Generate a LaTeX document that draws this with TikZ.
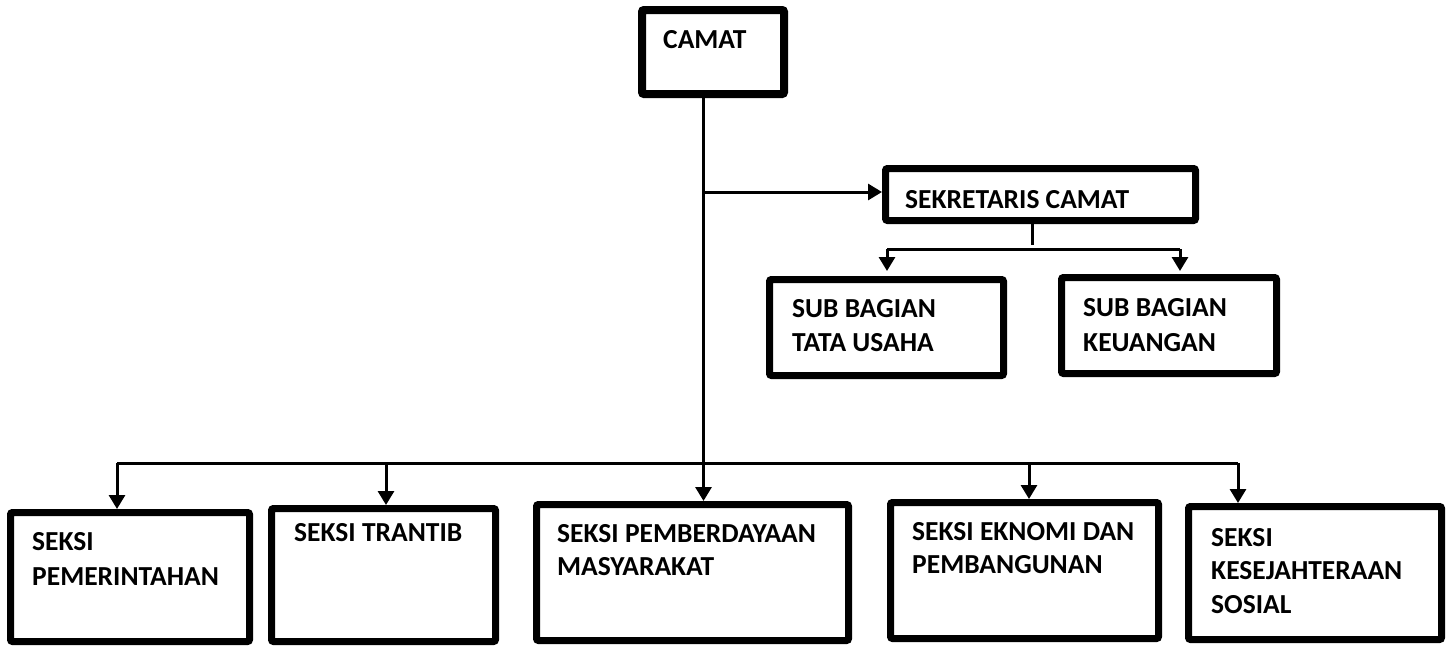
\documentclass[tikz,border=0pt]{standalone}
\usepackage{fontspec}
\setmainfont{Carlito}
\usetikzlibrary{arrows.meta}
\begin{document}
\begin{tikzpicture}[x=1pt,y=-1pt,
  box/.style={draw=black, line width=7pt, rounded corners=2pt, rectangle, inner sep=0pt, fill=white},
  conn/.style={draw=black, line width=3pt},
  arr/.style={conn, -{Triangle[length=14pt,width=16pt]}},
  lbl/.style={anchor=base west, inner sep=0pt, font=\fontsize{27.5}{33}\selectfont\bfseries}]
\useasboundingbox[fill=white] (0,0) rectangle (1451,646);

% boxes
\node[box, line width=8pt, minimum width=142pt, minimum height=84pt] (camat) at (713,52) {};
\node[box, minimum width=310pt, minimum height=52pt] (sek) at (1040.5,194.5) {};
\node[box, minimum width=234pt, minimum height=96pt] (tu) at (886.5,327.5) {};
\node[box, minimum width=215pt, minimum height=96pt] (keu) at (1169,325.5) {};
\node[box, minimum width=239pt, minimum height=129pt] (b1) at (130,577) {};
\node[box, minimum width=224pt, minimum height=133pt] (b2) at (383.5,575) {};
\node[box, minimum width=312pt, minimum height=136pt] (b3) at (692.5,572.5) {};
\node[box, minimum width=268pt, minimum height=136pt] (b4) at (1024.5,570.5) {};
\node[box, minimum width=253pt, minimum height=133pt] (b5) at (1315,573) {};

% labels
\node[lbl] (tcamat) at (663,48.5) {CAMAT};
\node[lbl] (tsek) at (905,208.5) {SEKRETARIS CAMAT};
\node[lbl] (ttu1) at (792,317.5) {SUB BAGIAN};
\node[lbl] (ttu2) at (792,351.5) {TATA USAHA};
\node[lbl] (tkeu1) at (1083,316.5) {SUB BAGIAN};
\node[lbl] (tkeu2) at (1083,351.5) {KEUANGAN};
\node[lbl] (tb1a) at (32,550.5) {SEKSI};
\node[lbl] (tb1b) at (32,585.5) {PEMERINTAHAN};
\node[lbl] (tb2a) at (294,541) {SEKSI TRANTIB};
\node[lbl] (tb3a) at (557,542.5) {SEKSI PEMBERDAYAAN};
\node[lbl] (tb3b) at (557,575.5) {MASYARAKAT};
\node[lbl] (tb4a) at (912,540.5) {SEKSI EKNOMI DAN};
\node[lbl] (tb4b) at (912,573.5) {PEMBANGUNAN};
\node[lbl] (tb5a) at (1211,546.5) {SEKSI};
\node[lbl] (tb5b) at (1211,579.5) {KESEJAHTERAAN};
\node[lbl] (tb5c) at (1211,613.5) {SOSIAL};

% coordinates
\coordinate (trunk) at (703.5,0);
\coordinate (jsek) at (703.5,192);
\coordinate (bus1) at (117,463);
\coordinate (bus2) at (386,463);
\coordinate (bus4) at (1029,463);
\coordinate (bus5) at (1238,463);
\coordinate (stubtop) at (1032,0);
\coordinate (stubend) at (1032,245);
\coordinate (sbl) at (887,249);
\coordinate (sbr) at (1180,249);
\coordinate (tipl) at (887,271);
\coordinate (tipr) at (1180,271);

% connectors
\draw[arr] (trunk |- camat.south) -- (trunk |- b3.north);
\draw[arr] (jsek) -- (sek.west |- jsek);
\draw[conn] (bus1) -- (bus5);
\draw[arr] (bus1) -- (bus1 |- b1.north);
\draw[arr] (bus2) -- (bus2 |- b2.north);
\draw[arr] (bus4) -- (bus4 |- b4.north);
\draw[arr] (bus5) -- (bus5 |- b5.north);
\draw[conn] (stubtop |- sek.south) -- (stubend);
\draw[conn] (sbl) -- (sbr);
\draw[arr] (sbl) -- (tipl);
\draw[arr] (sbr) -- (tipr);
\end{tikzpicture}
\end{document}
